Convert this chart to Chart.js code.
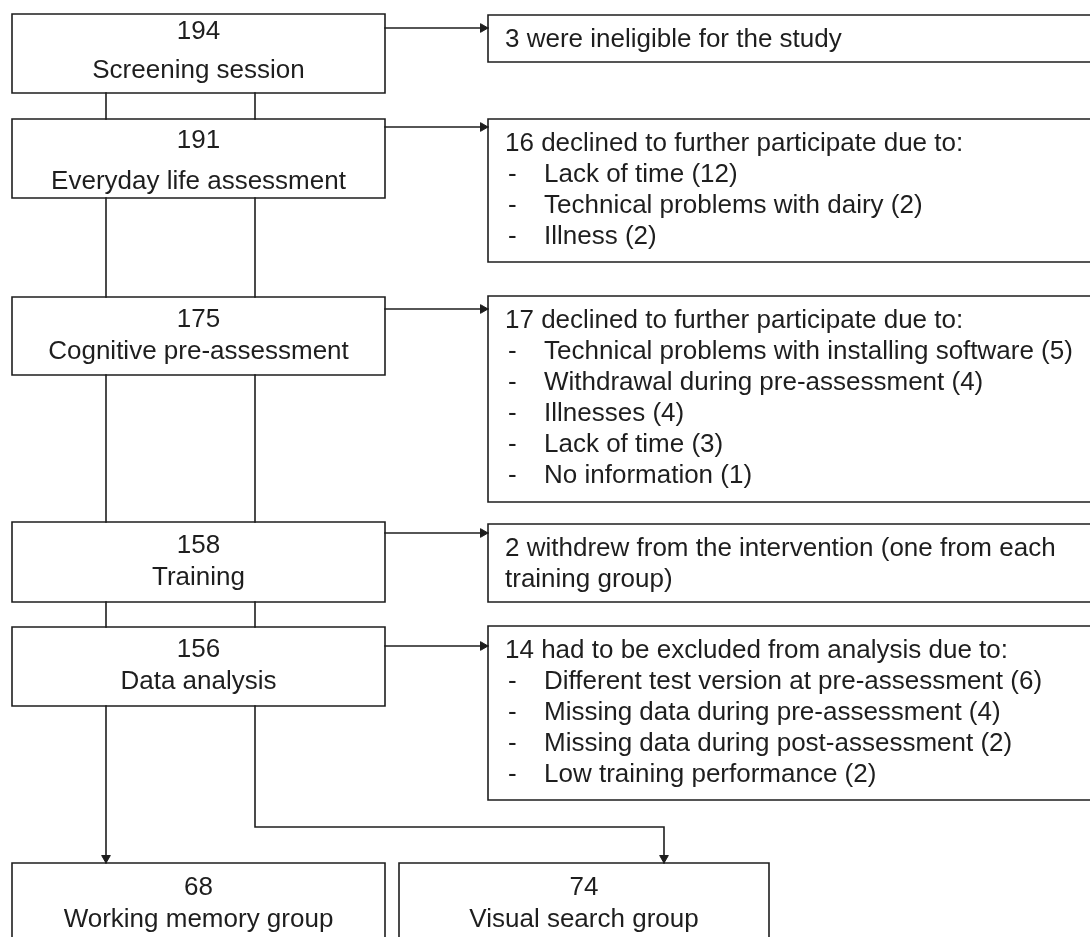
<!DOCTYPE html>
<html>
<head>
<meta charset="utf-8">
<script src="https://cdn.jsdelivr.net/npm/chart.js@4/dist/chart.umd.min.js"></script>
<style>
  html, body { margin: 0; padding: 0; background: #fff; }
  #wrap { width: 1090px; height: 937px; }
</style>
</head>
<body>
<div id="wrap"><canvas id="flow"></canvas></div>
<script>
// participant numbers per stage
const stageCounts = [194, 191, 175, 158, 156];
const stageLabels = [
  "Screening session",
  "Everyday life assessment",
  "Cognitive pre-assessment",
  "Training",
  "Data analysis"
];
const groupCounts = [68, 74];
const groupLabels = ["Working memory group", "Visual search group"];

// drop-out boxes on the right
const dropHeads = [
  ["3 were ineligible for the study"],
  ["16 declined to further participate due to:"],
  ["17 declined to further participate due to:"],
  ["2 withdrew from the intervention (one from each", "training group)"],
  ["14 had to be excluded from analysis due to:"]
];
const dropReasons = [
  [],
  ["Lack of time (12)", "Technical problems with dairy (2)", "Illness (2)"],
  ["Technical problems with installing software (5)", "Withdrawal during pre-assessment (4)",
   "Illnesses (4)", "Lack of time (3)", "No information (1)"],
  [],
  ["Different test version at pre-assessment (6)", "Missing data during pre-assessment (4)",
   "Missing data during post-assessment (2)", "Low training performance (2)"]
];

// layout, in chart units (the axes run 0..1090 and 0..937)
const stageLeft = 12, stageRight = 385;
const stageTop = [14, 119, 297, 522, 627];
const stageBottom = [93, 198, 375, 602, 706];
const stageLineOffset = [[18, 57], [22, 63], [23, 55], [24, 56], [23, 55]];
const linkX = [106, 255];
const dropLeft = 488, dropRight = 1094;
const dropTop = [15, 119, 296, 524, 626];
const dropBottom = [62, 262, 502, 602, 800];
const arrowY = [28, 127, 309, 533, 646];
const splitY = 827;
const groupTop = 863, groupBottom = 950;
const groupLeft = [12, 399], groupRight = [385, 769];
const groupArrowX = [106, 664];

const ink = "#1e1e1e";
const font = '26px "Liberation Sans", Arial, sans-serif';
const headR = 5;

function path(pts) {
  return {
    data: pts.map(([x, y]) => ({ x, y })),
    showLine: true,
    borderColor: ink,
    borderWidth: 1.6,
    borderCapStyle: "square",
    pointRadius: 0,
    fill: false
  };
}
function rect(l, t, r, b) {
  return path([[l, t], [r, t], [r, b], [l, b], [l, t]]);
}

const datasets = [];
const heads = [];
const headRot = [];

stageCounts.forEach((n, i) => {
  datasets.push(rect(stageLeft, stageTop[i], stageRight, stageBottom[i]));
  datasets.push(rect(dropLeft, dropTop[i], dropRight, dropBottom[i]));
  datasets.push(path([[stageRight, arrowY[i]], [dropLeft, arrowY[i]]]));
  heads.push({ x: dropLeft - headR, y: arrowY[i] });
  headRot.push(90);
  if (i < stageCounts.length - 1) {
    linkX.forEach(lx => datasets.push(path([[lx, stageBottom[i]], [lx, stageTop[i + 1]]])));
  }
});

groupCounts.forEach((n, i) => {
  datasets.push(rect(groupLeft[i], groupTop, groupRight[i], groupBottom));
  heads.push({ x: groupArrowX[i], y: groupTop - headR });
  headRot.push(180);
});
const last = stageBottom[stageBottom.length - 1];
datasets.push(path([[linkX[0], last], [groupArrowX[0], groupTop]]));
datasets.push(path([[linkX[1], last], [linkX[1], splitY], [groupArrowX[1], splitY], [groupArrowX[1], groupTop]]));

datasets.push({
  data: heads,
  showLine: false,
  pointStyle: "triangle",
  pointRotation: headRot,
  pointRadius: headR,
  backgroundColor: ink,
  borderColor: ink,
  borderWidth: 1
});

const boxText = {
  id: "boxText",
  beforeDraw(chart) {
    const { ctx, width, height } = chart;
    ctx.save();
    ctx.fillStyle = "#fff";
    ctx.fillRect(0, 0, width, height);
    ctx.restore();
  },
  afterDatasetsDraw(chart) {
    const { ctx, scales: { x, y } } = chart;
    ctx.save();
    ctx.fillStyle = ink;
    ctx.font = font;
    ctx.textBaseline = "middle";

    ctx.textAlign = "center";
    const cx = x.getPixelForValue((stageLeft + stageRight) / 2);
    stageCounts.forEach((n, i) => {
      ctx.fillText(String(n), cx, y.getPixelForValue(stageTop[i] + stageLineOffset[i][0]));
      ctx.fillText(stageLabels[i], cx, y.getPixelForValue(stageTop[i] + stageLineOffset[i][1]));
    });
    groupCounts.forEach((n, i) => {
      const gx = x.getPixelForValue((groupLeft[i] + groupRight[i]) / 2);
      ctx.fillText(String(n), gx, y.getPixelForValue(groupTop + 25));
      ctx.fillText(groupLabels[i], gx, y.getPixelForValue(groupTop + 57));
    });

    ctx.textAlign = "left";
    dropHeads.forEach((lines, i) => {
      let row = 0;
      lines.forEach(t => {
        ctx.fillText(t, x.getPixelForValue(dropLeft + 17), y.getPixelForValue(dropTop[i] + 24.5 + 31 * row));
        row++;
      });
      dropReasons[i].forEach(t => {
        const ty = y.getPixelForValue(dropTop[i] + 24.5 + 31 * row);
        ctx.fillText("-", x.getPixelForValue(dropLeft + 20), ty);
        ctx.fillText(t, x.getPixelForValue(dropLeft + 56), ty);
        row++;
      });
    });
    ctx.restore();
  }
};

new Chart(document.getElementById("flow"), {
  type: "scatter",
  data: { datasets },
  options: {
    responsive: true,
    maintainAspectRatio: false,
    animation: false,
    events: [],
    layout: { padding: 0, autoPadding: false },
    scales: {
      x: { type: "linear", min: 0, max: 1090, display: false },
      y: { type: "linear", min: 0, max: 937, reverse: true, display: false }
    },
    plugins: { legend: { display: false }, tooltip: { enabled: false } }
  },
  plugins: [boxText]
});
</script>
</body>
</html>
